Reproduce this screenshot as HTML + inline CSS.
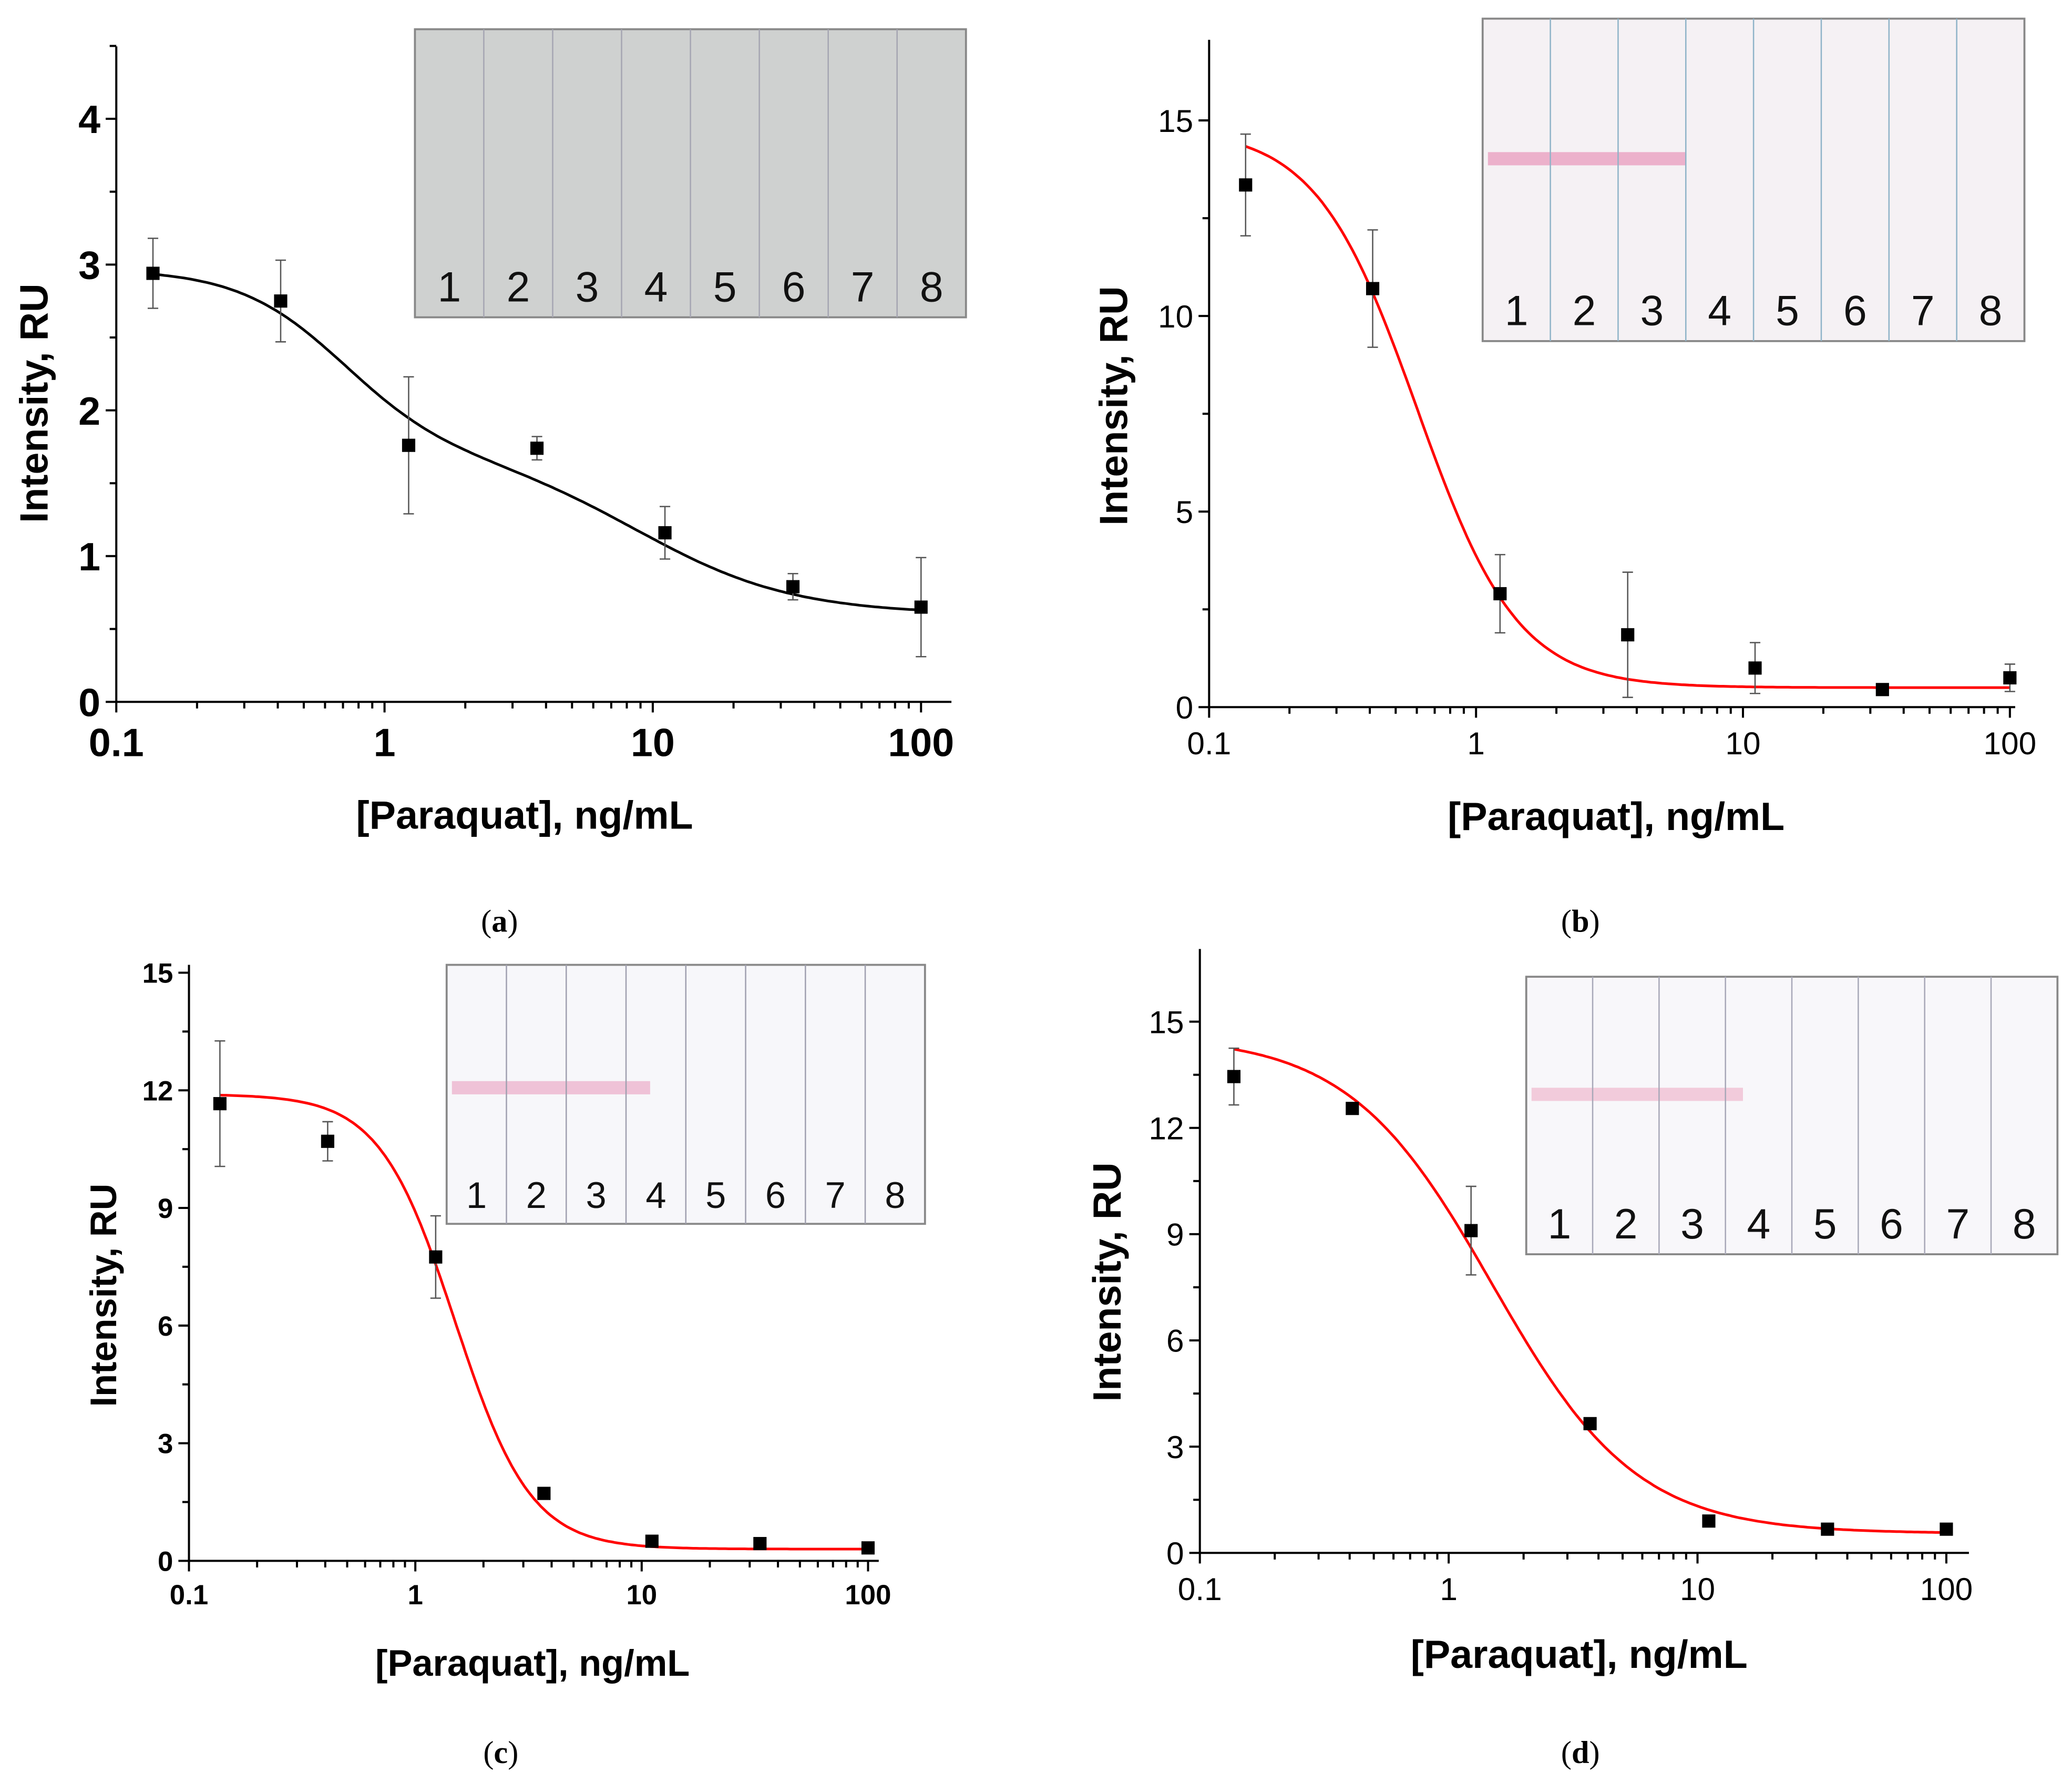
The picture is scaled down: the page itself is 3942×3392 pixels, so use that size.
<!DOCTYPE html>
<html><head><meta charset="utf-8">
<style>html,body{margin:0;padding:0;background:#fff}svg{display:block}</style>
</head><body>
<svg id="fig" xmlns="http://www.w3.org/2000/svg" width="3942" height="3392" viewBox="0 0 1568 1349">
<rect width="1568" height="1349" fill="#fff"/>
</svg>
<script>
const concentrations = [0.137, 0.41, 1.23, 3.7, 11.1, 33.3, 100];
const valuesA = [2.94, 2.75, 1.76, 1.74, 1.16, 0.79, 0.65];
const errorsA = [0.24, 0.28, 0.47, 0.08, 0.18, 0.09, 0.34];
const valuesB = [13.35, 10.7, 2.9, 1.85, 1.0, 0.45, 0.75];
const errorsB = [1.3, 1.5, 1.0, 1.6, 0.65, 0.1, 0.35];
const valuesC = [11.66, 10.7, 7.75, 1.72, 0.5, 0.44, 0.33];
const errorsC = [1.6, 0.5, 1.05, 0.1, 0.1, 0.05, 0.05];
const valuesD = [13.45, 12.55, 9.1, 3.65, 0.9, 0.67, 0.67];
const errorsD = [0.8, 0.15, 1.25, 0.15, 0.1, 0.05, 0.05];
const ticksA = [0, 1, 2, 3, 4];
const ticksB = [0, 5, 10, 15];
const ticksCD = [0, 3, 6, 9, 12, 15];
const xTicks = [0.1, 1, 10, 100];
const xTickLabels = ['0.1', '1', '10', '100'];
const stripLabels = ['1','2','3','4','5','6','7','8'];

const NS = 'http://www.w3.org/2000/svg';
const svg = document.getElementById('fig');
function mk(tag, attrs, parent, text) {
  const e = document.createElementNS(NS, tag);
  for (const k in attrs) e.setAttribute(k, attrs[k]);
  if (text !== undefined) e.textContent = text;
  (parent || svg).appendChild(e);
  return e;
}

function panel(p) {
  const g = mk('g', {});
  
  
  const X = v => p.x0 + (Math.log10(v) + 1) * p.dec;
  const Y = v => p.y0 - v * p.yu;
  const ax = mk('g', {stroke: '#000', 'stroke-width': 1.6, fill: 'none'}, g);
  
  
  mk('line', {x1: p.x0, y1: p.yTop, x2: p.x0, y2: p.y0}, ax);
  mk('line', {x1: p.x0, y1: p.y0, x2: p.xEnd, y2: p.y0}, ax);
  p.yt.forEach((t, i) => {
    mk('line', {x1: p.x0 - 8, y1: Y(t), x2: p.x0, y2: Y(t)}, ax);
    if (i < p.yt.length - 1) {
      const m = (t + p.yt[i + 1]) / 2;
      mk('line', {x1: p.x0 - 5, y1: Y(m), x2: p.x0, y2: Y(m)}, ax);
    }
    const lb = mk('text', {x: p.x0 - 12, y: Y(t) + p.fs * 0.36, 'text-anchor': 'end', 'font-size': p.fs, 'font-weight': p.bold ? 'bold' : 'normal', 'font-family': 'Liberation Sans, sans-serif', fill: '#000', stroke: 'none'}, g, String(t));
    
    
  });
  if (p.yExtra) { const m = p.yExtra; mk('line', {x1: p.x0 - 5, y1: Y(m), x2: p.x0, y2: Y(m)}, ax); }
  xTicks.forEach((t, i) => {
    mk('line', {x1: X(t), y1: p.y0, x2: X(t), y2: p.y0 + 8}, ax);
    if (i < 3) for (let k = 2; k <= 9; k++) { const xv = X(t * k); mk('line', {x1: xv, y1: p.y0, x2: xv, y2: p.y0 + 5}, ax); }
    const lb = mk('text', {x: X(t), y: p.y0 + 14 + p.fs * 0.9, 'text-anchor': 'middle', 'font-size': p.fs, 'font-weight': p.bold ? 'bold' : 'normal', 'font-family': 'Liberation Sans, sans-serif', fill: '#000'}, g, xTickLabels[i]);
    
    
  });
  const yl = mk('text', {x: 0, y: 0, transform: `translate(${p.ylx},${p.yly}) rotate(-90)`, 'text-anchor': 'middle', 'font-size': p.lfs, 'font-weight': 'bold', 'font-family': 'Liberation Sans, sans-serif'}, g, 'Intensity, RU');
  
  
  const xl = mk('text', {x: p.xlx, y: p.xly, 'text-anchor': 'middle', 'font-size': p.lfs, 'font-weight': 'bold', 'font-family': 'Liberation Sans, sans-serif'}, g, '[Paraquat], ng/mL');
  
  
  const cap = mk('text', {x: p.capx, y: p.capy, 'text-anchor': 'middle', 'font-size': 24, 'font-family': 'Liberation Serif, serif'}, g);
  
  
  mk('tspan', {}, cap, '(');
  mk('tspan', {'font-weight': 'bold'}, cap, p.id);
  mk('tspan', {}, cap, ')');
  const ins = mk('g', {}, g);
  
  
  const r = p.inset;
  mk('rect', {x: r[0], y: r[1], width: r[2], height: r[3], fill: p.insetFill, stroke: '#888', 'stroke-width': 1.5}, ins);
  if (p.band) mk('rect', {x: r[0] + 4, y: p.band[0], width: p.band[1], height: 10, fill: p.band[2], opacity: 0.75}, ins);
  for (let k = 1; k < 8; k++) {
    const lx = r[0] + r[2] * k / 8;
    mk('line', {x1: lx, y1: r[1], x2: lx, y2: r[1] + r[3], stroke: p.stripLine, 'stroke-width': 1}, ins);
  }
  stripLabels.forEach((s, k) => {
    const t = mk('text', {x: r[0] + r[2] * (k + 0.5) / 8, y: r[1] + r[3] - 12, 'text-anchor': 'middle', 'font-size': p.nfs, 'font-family': 'Liberation Sans, sans-serif', fill: '#111'}, ins, s);
    
    
  });
  let d = '';
  for (let i = 0; i <= 200; i++) {
    const lx = Math.log10(concentrations[0]) + (2 - Math.log10(concentrations[0])) * i / 200;
    const v = p.fit(Math.pow(10, lx));
    d += (i ? 'L' : 'M') + X(Math.pow(10, lx)).toFixed(1) + ',' + Y(v).toFixed(1);
  }
  const c = mk('path', {d, fill: 'none', stroke: p.color, 'stroke-width': 2}, g);
  
  
  concentrations.forEach((cx, i) => {
    const px = X(cx), v = p.vals[i], e = p.errs[i];
    const eb = mk('path', {d: `M${px},${Y(v + e)}V${Y(v - e)}M${px - 4},${Y(v + e)}h8M${px - 4},${Y(v - e)}h8`, stroke: '#555', 'stroke-width': 1, fill: 'none'}, g);
    
    
    const pt = mk('rect', {x: px - 5, y: Y(v) - 5, width: 10, height: 10, fill: '#000'}, g);
    
    
  });
}
const fourPL = (bot, top, c, b) => x => bot + (top - bot) / (1 + Math.pow(x / c, b));

panel({id: 'a', x0: 88, y0: 531, yTop: 35, xEnd: 720, dec: 203, yu: 110.3, yt: ticksA, yExtra: 4.5, fs: 30, bold: true, lfs: 30,
  ylx: 36, yly: 305, xlx: 397, xly: 627, capx: 378, capy: 705, vals: valuesA, errs: errorsA, color: '#000',
  fit: x => 0.6 + 1.25 / (1 + Math.pow(x / 0.7, 2.2)) + 1.12 / (1 + Math.pow(x / 9, 1.5)),
  inset: [314, 22, 417, 218], insetFill: '#cfd1d0', stripLine: '#a5a5b2', nfs: 32});
panel({id: 'b', x0: 915, y0: 535, yTop: 30, xEnd: 1525, dec: 202, yu: 29.6, yt: ticksB, fs: 24, bold: false, lfs: 30,
  ylx: 853, yly: 307, xlx: 1223, xly: 628, capx: 1196, capy: 705, vals: valuesB, errs: errorsB, color: '#f00',
  fit: fourPL(0.5, 14.8, 0.6, 2.3),
  inset: [1122, 14, 410, 244], insetFill: '#f5f1f4', stripLine: '#8fb3c8', nfs: 32, band: [115, 150, '#e89bbd']});
panel({id: 'c', x0: 143, y0: 1181, yTop: 730, xEnd: 665, dec: 171.3, yu: 29.67, yt: ticksCD, fs: 21, bold: true, lfs: 28,
  ylx: 88, yly: 980, xlx: 403, xly: 1268, capx: 379, capy: 1334, vals: valuesC, errs: errorsC, color: '#f00',
  fit: fourPL(0.3, 11.9, 1.5, 2.6),
  inset: [338, 730, 362, 196], insetFill: '#f7f7fa', stripLine: '#a0a0b0', nfs: 28, band: [818, 150, '#ecb0cb']});
panel({id: 'd', x0: 908, y0: 1175, yTop: 718, xEnd: 1490, dec: 188.3, yu: 26.8, yt: ticksCD, fs: 24, bold: false, lfs: 30,
  ylx: 848, yly: 970, xlx: 1195, xly: 1262, capx: 1196, capy: 1334, vals: valuesD, errs: errorsD, color: '#f00',
  fit: fourPL(0.55, 14.6, 1.5, 1.5),
  inset: [1155, 739, 402, 210], insetFill: '#f8f7fa', stripLine: '#a8a8b8', nfs: 32, band: [823, 160, '#f0bcd0']});
</script>
</body></html>
